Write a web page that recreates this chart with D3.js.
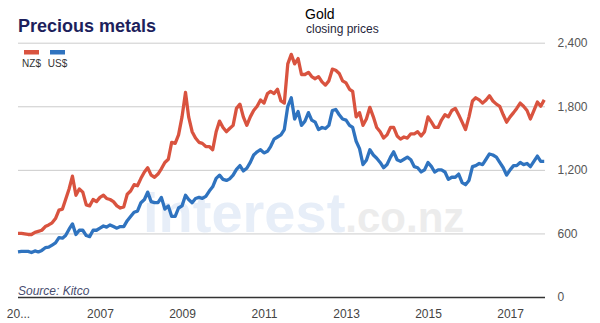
<!DOCTYPE html>
<html>
<head>
<meta charset="utf-8">
<script src="https://cdn.jsdelivr.net/npm/d3@7"></script>
<style>
  html, body { margin: 0; padding: 0; background: #fff; }
  svg { display: block; font-family: "Liberation Sans", Arial, sans-serif; }
</style>
</head>
<body>
<svg id="chart" width="600" height="323"></svg>
<script>
// Monthly gold closing prices, Jan 2005 – Nov 2017
const startMonth = new Date(2005, 0, 1);
const endMonth = new Date(2017, 11, 1);

const seriesNames = ["NZ$", "US$"];
const seriesColors = ["#d9533f", "#2f73bf"];

const nzd = [
  600,600,595,590,590,610,620,630,665,680,700,740,
  820,830,920,1020,1140,960,1020,990,870,860,920,900,
  940,960,930,920,900,860,840,850,970,1000,1060,1050,
  1120,1180,1220,1150,1130,1160,1210,1270,1300,1460,1450,1530,
  1700,1930,1700,1560,1500,1460,1450,1420,1420,1390,1560,1660,
  1600,1560,1590,1620,1780,1820,1700,1620,1700,1760,1800,1860,
  1830,1920,1940,1920,1960,1850,1830,2200,2290,2200,2250,2100,
  2100,2120,2080,2060,2080,2030,2000,2040,2150,2140,2110,2040,
  2020,1960,1940,1700,1740,1620,1680,1790,1700,1600,1560,1500,
  1530,1600,1600,1520,1490,1510,1500,1540,1540,1560,1520,1560,
  1700,1650,1600,1600,1670,1720,1700,1760,1780,1720,1650,1580,
  1700,1850,1880,1860,1830,1860,1900,1850,1820,1800,1720,1650,
  1700,1740,1780,1830,1800,1760,1680,1760,1840,1800,1860
];

const usd = [
  425,430,430,430,420,435,425,440,465,470,490,510,
  560,555,580,640,690,590,630,630,580,570,630,630,
  650,670,660,680,665,650,665,665,720,760,800,810,
  890,920,990,900,890,890,940,830,860,760,760,840,
  860,960,920,890,930,940,930,950,1000,1040,1120,1150,
  1110,1100,1115,1150,1205,1240,1190,1215,1270,1340,1370,1390,
  1360,1375,1420,1490,1510,1530,1580,1800,1880,1680,1750,1620,
  1660,1740,1670,1650,1580,1600,1590,1620,1760,1770,1720,1680,
  1670,1620,1600,1470,1400,1250,1290,1390,1340,1310,1270,1220,
  1250,1320,1370,1295,1280,1300,1320,1295,1230,1220,1180,1200,
  1270,1230,1180,1200,1200,1180,1110,1130,1130,1160,1080,1060,
  1100,1230,1240,1260,1250,1300,1350,1340,1320,1270,1220,1150,
  1200,1240,1240,1270,1250,1260,1230,1280,1330,1280,1280
];

const yTicks = [0, 600, 1200, 1800, 2400];
const xTickYears = [2005, 2007, 2009, 2011, 2013, 2015, 2017];

const months = d3.timeMonth.range(startMonth, endMonth);

const svg = d3.select("#chart");
const plotLeft = 18, plotRight = 545, plotTop = 42.7, plotBottom = 297;

const x = d3.scaleTime()
  .domain([startMonth, new Date(2017, 10, 8)])
  .range([plotLeft, plotRight]);
const y = d3.scaleLinear()
  .domain([0, 2400])
  .range([plotBottom, plotTop]);

// Horizontal gridlines and value labels
const yAxis = d3.axisRight(y)
  .tickValues(yTicks)
  .tickSize(-(plotRight - plotLeft))
  .tickPadding(12)
  .tickFormat(d3.format(","));
const gy = svg.append("g")
  .attr("transform", `translate(${plotRight},0)`)
  .call(yAxis);
gy.select(".domain").remove();
gy.selectAll(".tick line")
  .attr("stroke", d => d === 0 ? "#333" : "#cccccc")
  .attr("stroke-width", d => d === 0 ? 1.3 : 1);
gy.selectAll(".tick text")
  .attr("fill", "#555")
  .attr("font-size", 12)
  .attr("x", 12.5)
  .attr("font-family", "Liberation Sans, Arial, sans-serif");

// Year labels along the bottom
const xAxis = d3.axisBottom(x)
  .tickValues(xTickYears.map(yr => new Date(yr, 0, 1)))
  .tickSize(0)
  .tickPadding(12)
  .tickFormat(d => d.getFullYear() === 2005 ? "20..." : d3.timeFormat("%Y")(d));
const gx = svg.append("g")
  .attr("transform", `translate(0,${plotBottom})`)
  .call(xAxis);
gx.select(".domain").remove();
gx.selectAll(".tick text")
  .attr("fill", "#444")
  .attr("font-size", 12)
  .attr("font-family", "Liberation Sans, Arial, sans-serif");

// Site watermark
const wm = svg.append("text")
  .attr("x", 143)
  .attr("y", 232)
  .attr("font-weight", "bold");
wm.append("tspan").attr("font-size", 56).attr("fill", "#e7eef8").text("interest");
wm.append("tspan").attr("font-size", 42).attr("fill", "#ececec").text(".co.nz");

// Price lines
const line = d3.line()
  .x((d, i) => x(months[i]))
  .y(d => y(d));

[nzd, usd].forEach((vals, k) => {
  svg.append("path")
    .datum(vals)
    .attr("fill", "none")
    .attr("stroke", seriesColors[k])
    .attr("stroke-width", 3.3)
    .attr("stroke-linejoin", "round")
    .attr("d", line);
});

// Title and subtitle
svg.append("text")
  .attr("x", plotLeft).attr("y", 31.5)
  .attr("font-size", 18).attr("font-weight", "bold")
  .attr("fill", "#1d1f5c")
  .text("Precious metals");
svg.append("text")
  .attr("x", 305).attr("y", 18.5)
  .attr("font-size", 14).attr("fill", "#000")
  .text("Gold");
svg.append("text")
  .attr("x", 306).attr("y", 32.5)
  .attr("font-size", 12).attr("fill", "#1f1f3a")
  .text("closing prices");

// Legend
const legend = svg.append("g");
seriesNames.forEach((name, k) => {
  const lx = 24 + k * 26;
  legend.append("rect")
    .attr("x", lx).attr("y", 50)
    .attr("width", 15).attr("height", 4.5)
    .attr("fill", seriesColors[k]);
  legend.append("text")
    .attr("x", lx + 7.5).attr("y", 66.5)
    .attr("text-anchor", "middle")
    .attr("font-size", 10).attr("fill", "#333")
    .text(name);
});

// Source note
svg.append("text")
  .attr("x", plotLeft).attr("y", 294.5)
  .attr("font-size", 12).attr("font-style", "italic")
  .attr("fill", "#474c6e")
  .text("Source: Kitco");
</script>
</body>
</html>
